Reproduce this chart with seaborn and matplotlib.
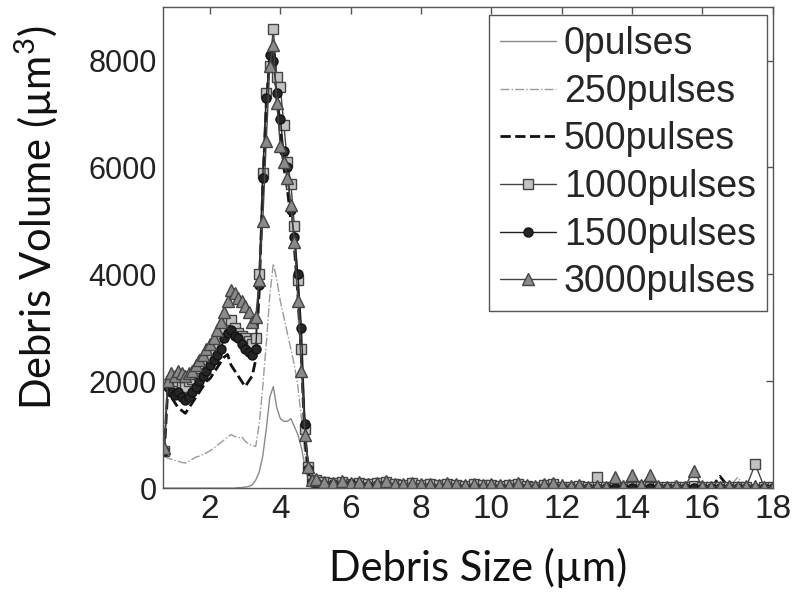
import numpy as np
import seaborn as sns
import matplotlib.pyplot as plt

# debris size grid (um): fine steps through the peak, coarser in the tail
x_main = np.round(np.arange(0.7, 4.95, 0.1), 2)
x_tail = np.round(np.arange(5.0, 18.01, 0.25), 2)
debris_size = np.concatenate([x_main, x_tail])

# debris volume (um^3) -- main part 0.7..4.9
p0_main = [0, 0, 0, 0, 0, 0, 0, 0, 0, 0,
           0, 0, 0, 0, 0, 0, 0, 0, 0, 0,
           0, 10, 10, 20, 30, 60, 150, 300, 600, 1100,
           1700, 1900, 1500, 1300, 1250, 1250, 1300, 1150, 1000, 750,
           400, 150, 30]
p250_main = [600, 560, 540, 520, 500, 480, 470, 500, 540, 580,
             600, 630, 660, 700, 740, 800, 850, 900, 960, 1000,
             970, 940, 960, 880, 820, 800, 780, 1200, 1900, 2700,
             3600, 4200, 3900, 3500, 3200, 2900, 2600, 2300, 1900, 1300,
             600, 200, 50]
p500_main = [650, 1850, 1700, 1600, 1500, 1450, 1400, 1500, 1600, 1700,
             1800, 1900, 2000, 2050, 2150, 2250, 2350, 2450, 2500, 2300,
             2200, 2100, 2000, 1900, 2000, 2100, 2400, 3700, 5600, 7200,
             8000, 8100, 7300, 6700, 6000, 5600, 5000, 4500, 3600, 2400,
             900, 300, 100]
p1000_main = [700, 1950, 2000, 1950, 2000, 1950, 1900, 2000, 2050, 2150,
              2250, 2300, 2400, 2500, 2600, 2700, 2850, 3000, 3100, 3150,
              3000, 2900, 2850, 2800, 2750, 2700, 2800, 4000, 5900, 7400,
              7900, 8600, 7700, 7500, 6800, 6100, 5700, 4900, 3900, 2600,
              1100, 400, 150]
p1500_main = [700, 1900, 1800, 1750, 1800, 1700, 1650, 1700, 1800, 1900,
              2000, 2100, 2200, 2300, 2400, 2500, 2600, 2800, 2900, 2950,
              2850, 2800, 2700, 2600, 2550, 2500, 2600, 3800, 5800, 7300,
              8100, 8000, 7400, 6900, 6300, 6000, 5200, 4700, 4000, 3000,
              1200, 350, 120]
p3000_main = [750, 2000, 2150, 2100, 2200, 2150, 2100, 2150, 2200, 2300,
              2400, 2500, 2600, 2700, 2800, 2950, 3100, 3300, 3500, 3700,
              3650, 3550, 3500, 3400, 3300, 3100, 3200, 3900, 5000, 6500,
              7900, 8300, 7200, 6400, 6100, 5800, 5300, 4600, 3500, 2200,
              1000, 400, 150]

# tail 5.0..18.0
p0_tail = [0, 0, 0, 0, 0, 0, 0, 0, 0, 0, 0, 0,
           0, 0, 0, 0, 0, 0, 0, 0, 0, 0, 0, 0,
           0, 0, 0, 0, 0, 0, 0, 0, 0, 0, 0, 0,
           0, 0, 0, 0, 0, 0, 0, 0, 0, 0, 0, 0,
           0, 0, 0, 0, 0]
p250_tail = [30, 20, 15, 20, 10, 15, 10, 20, 10, 15, 10, 10,
             10, 15, 10, 10, 10, 20, 10, 10, 15, 10, 10, 10,
             10, 10, 15, 10, 10, 10, 10, 10, 10, 10, 10, 10,
             10, 10, 10, 10, 10, 150, 10, 10, 10, 10, 10, 10,
             200, 10, 10, 10, 10]
p500_tail = [110, 80, 90, 70, 100, 80, 60, 90, 70, 40, 50, 30,
             30, 20, 40, 20, 30, 20, 10, 30, 20, 10, 20, 10,
             10, 20, 10, 10, 10, 10, 10, 10, 10, 10, 10, 10,
             10, 10, 10, 10, 10, 10, 10, 10, 10, 10, 220, 10,
             10, 10, 10, 10, 10]
p1000_tail = [150, 110, 90, 120, 80, 100, 70, 90, 110, 70, 60, 90,
              60, 70, 50, 80, 60, 40, 70, 50, 60, 40, 50, 70,
              40, 30, 60, 70, 30, 20, 40, 20, 200, 30, 20, 30,
              30, 40, 20, 30, 20, 30, 20, 40, 20, 30, 20, 30,
              20, 30, 450, 30, 20]
p1500_tail = [90, 60, 70, 40, 80, 50, 40, 60, 30, 20, 10, 10,
              5, 10, 5, 5, 10, 5, 5, 5, 10, 5, 5, 5,
              5, 5, 5, 5, 5, 0, 5, 0, 5, 0, 0, 5,
              0, 5, 0, 0, 5, 0, 0, 0, 5, 0, 0, 0,
              0, 0, 5, 0, 0]
p3000_tail = [180, 120, 100, 140, 90, 110, 80, 100, 130, 80, 70, 100,
              70, 80, 60, 90, 70, 50, 80, 60, 70, 50, 60, 90,
              50, 40, 70, 90, 60, 40, 50, 30, 40, 30, 200, 40,
              250, 60, 240, 40, 30, 40, 30, 320, 40, 30, 30, 40,
              30, 40, 40, 30, 30]

labels = ["0pulses", "250pulses", "500pulses", "1000pulses", "1500pulses", "3000pulses"]

sns.set_style("white")
plt.rcParams['font.family'] = ['Liberation Sans', 'DejaVu Sans']

fig, ax = plt.subplots(figsize=(8, 5.96), dpi=100)
fig.subplots_adjust(left=0.204, right=0.966, bottom=0.181, top=0.988)

styles = [
    (p0_main + p0_tail, dict(color="#8a8a8a", linewidth=1.0, linestyle="-")),
    (p250_main + p250_tail, dict(color="#9a9a9a", linewidth=1.0, linestyle="-.")),
    (p500_main + p500_tail, dict(color="#111111", linewidth=2.0, linestyle="--")),
    (p1000_main + p1000_tail, dict(color="#444444", linewidth=1.0, marker="s", markersize=7.5,
                                   markerfacecolor="#c2c2c2", markeredgecolor="#444444", markeredgewidth=1)),
    (p1500_main + p1500_tail, dict(color="#222222", linewidth=1.0, marker="o", markersize=6.5,
                                   markerfacecolor="#262626", markeredgecolor="#111111", markeredgewidth=1)),
    (p3000_main + p3000_tail, dict(color="#444444", linewidth=1.0, marker="^", markersize=8,
                                   markerfacecolor="#8a8a8a", markeredgecolor="#444444", markeredgewidth=1)),
]
for label, (vals, kw) in zip(labels, styles):
    sns.lineplot(x=debris_size, y=vals, ax=ax, label=label, errorbar=None, **kw)

ax.set_xlim(0.67, 18.0)
ax.set_ylim(0, 9000)
ax.set_xticks(range(2, 19, 2))
ax.set_yticks([0, 2000, 4000, 6000, 8000])
ax.tick_params(direction="in", top=True, right=True, length=5, width=1,
               color="#555555", pad=4.5, labelcolor="#222222")
ax.tick_params(axis="x", labelsize=24)
ax.tick_params(axis="y", labelsize=22)
for s in ax.spines.values():
    s.set_color("#555555")
    s.set_linewidth(1.0)

ax.set_xlabel("Debris Size (µm)", fontsize=30, family="Lato", color="#111111")
ax.set_ylabel(r"Debris Volume (µm$\mathregular{^3}$)", fontsize=30, family="Lato", color="#111111")
ax.xaxis.set_label_coords(0.516, -0.125)
ax.yaxis.set_label_coords(-0.167, 0.563)

leg = ax.legend(loc="upper right", bbox_to_anchor=(0.990, 0.983), borderaxespad=0,
                prop={"family": "Liberation Sans", "size": 27},
                frameon=True, fancybox=False, edgecolor="#555555", framealpha=1,
                handlelength=1.5, handletextpad=0.2, labelspacing=0.31, borderpad=0.29)
leg.get_frame().set_linewidth(1.0)

fig.savefig("out.png", dpi=100)
